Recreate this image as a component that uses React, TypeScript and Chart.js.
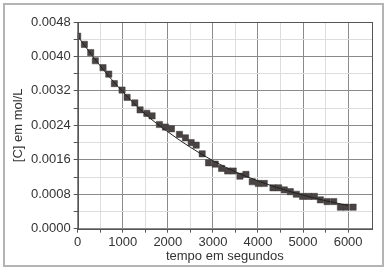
import React, { useEffect, useRef } from "react";
import { Chart, registerables } from "chart.js";

Chart.register(...registerables);

const timeSeconds = [
  0, 148, 289, 391, 562, 689, 813, 984, 1096, 1267, 1384, 1533, 1651, 1813, 1947,
  2080, 2258, 2391, 2518, 2629, 2762, 2903, 3051, 3193, 3327, 3451, 3600, 3733,
  3873, 4007, 4140, 4333, 4458, 4584, 4718, 4851, 4991, 5124, 5251, 5384, 5533,
  5681, 5829, 5956, 6111,
];
const concentration = [
  0.00447, 0.00428, 0.00409, 0.0039, 0.00374, 0.00359, 0.00337, 0.00322, 0.00305,
  0.00292, 0.00276, 0.00268, 0.00262, 0.00242, 0.00236, 0.00232, 0.00219, 0.00211,
  0.002, 0.00194, 0.00174, 0.00153, 0.0015, 0.0014, 0.00134, 0.00134, 0.00122,
  0.00126, 0.00109, 0.00105, 0.00105, 0.00095, 0.00095, 0.0009, 0.00086, 0.0008,
  0.00075, 0.00075, 0.00075, 0.00067, 0.00063, 0.00063, 0.0005, 0.0005, 0.0005,
];
const fitTime = [0, 500, 1000, 1500, 2000, 2500, 3000, 3500, 4000, 4500, 5000, 5500, 6000];
const fitConcentration = [
  0.00447, 0.00378, 0.00318, 0.00266, 0.00225, 0.00189, 0.00158, 0.00132, 0.00111,
  0.00093, 0.00078, 0.00065, 0.00054,
];
const xTickValues = [0, 500, 1000, 1500, 2000, 2500, 3000, 3500, 4000, 4500, 5000, 5500, 6000];
const yTickValues = [0, 0.0004, 0.0008, 0.0012, 0.0016, 0.002, 0.0024, 0.0028, 0.0032, 0.0036, 0.004, 0.0044, 0.0048];
const xTitle = "tempo em segundos";
const yTitle = "[C] em mol/L";

const FONT = "'Liberation Sans', Arial, sans-serif";

export default function App() {
  const ref = useRef<HTMLCanvasElement | null>(null);
  useEffect(() => {
    document.body.style.margin = "0";
    const canvas = ref.current!;
    const framePlugin = {
      id: "frames",
      beforeDraw(chart: any) {
        const ctx = chart.ctx;
        ctx.save();
        ctx.fillStyle = "#ffffff";
        ctx.fillRect(0, 0, chart.width, chart.height);
        ctx.strokeStyle = "#b4b4b4";
        ctx.lineWidth = 2;
        ctx.strokeRect(4, 4, 379, 262);
        ctx.restore();
      },
      afterDatasetsDraw(chart: any) {
        const { left, right, top, bottom } = chart.chartArea;
        const ctx = chart.ctx;
        ctx.save();
        ctx.strokeStyle = "#555555";
        ctx.lineWidth = 1;
        ctx.strokeRect(Math.round(left) + 0.5, Math.round(top) + 0.5, Math.round(right - left), Math.round(bottom - top));
        ctx.restore();
      },
    };
    const chart = new Chart(canvas, {
      type: "scatter",
      data: {
        datasets: [
          {
            data: timeSeconds.map((t, i) => ({ x: t, y: concentration[i] })),
            pointStyle: "rect",
            pointRadius: 4.4,
            pointBackgroundColor: "#4a4343",
            pointBorderColor: "#3f3a3a",
            pointBorderWidth: 0.5,
            showLine: false,
            order: 2,
          },
          {
            data: fitTime.map((t, i) => ({ x: t, y: fitConcentration[i] })),
            showLine: true,
            borderColor: "#222222",
            borderWidth: 1,
            pointRadius: 0,
            cubicInterpolationMode: "monotone",
            order: 1,
          },
        ],
      },
      options: {
        animation: false,
        responsive: false,
        devicePixelRatio: 1,
        layout: { padding: { top: 22, right: 19, bottom: 0, left: 0 } },
        plugins: { legend: { display: false }, tooltip: { enabled: false } },
        scales: {
          x: {
            type: "linear",
            min: 0,
            max: 6530,
            afterBuildTicks: (scale: any) => {
              scale.ticks = xTickValues.map((v) => ({ value: v }));
            },
            afterFit: (scale: any) => {
              scale.height = 45.3;
            },
            ticks: {
              autoSkip: false,
              maxRotation: 0,
              padding: 2,
              color: "#333333",
              font: { family: FONT, size: 13 },
              callback: (v: any) => (Number(v) % 1000 === 0 ? String(v) : ""),
            },
            grid: {
              color: (c: any) => (c.tick && c.tick.value % 1000 === 0 ? "#8a8a8a" : "#dddddd"),
              tickColor: "#555555",
              tickLength: 4,
            },
            border: { display: false },
            title: {
              display: true,
              text: xTitle,
              color: "#333333",
              font: { family: FONT, size: 13 },
              padding: { top: 0, bottom: 10 },
            },
          },
          y: {
            type: "linear",
            min: 0,
            max: 0.0048,
            afterBuildTicks: (scale: any) => {
              scale.ticks = yTickValues.map((v) => ({ value: v }));
            },
            afterFit: (scale: any) => {
              scale.width = 77.7;
            },
            ticks: {
              autoSkip: false,
              padding: 3,
              color: "#333333",
              font: { family: FONT, size: 13 },
              callback: (v: any, i: number) => (i % 2 === 0 ? yTickValues[i].toFixed(4) : ""),
            },
            grid: {
              color: (c: any) => (c.index % 2 === 0 ? "#8a8a8a" : "#dddddd"),
              tickColor: "#555555",
              tickLength: 4,
            },
            border: { display: false },
            title: {
              display: true,
              text: yTitle,
              color: "#333333",
              font: { family: FONT, size: 13 },
              padding: { top: 11, bottom: 0 },
            },
          },
        },
      },
      plugins: [framePlugin],
    } as any);
    return () => chart.destroy();
  }, []);
  return (
    <canvas
      ref={ref}
      width={391}
      height={274}
      style={{ display: "block", width: 391, height: 274 }}
    />
  );
}
